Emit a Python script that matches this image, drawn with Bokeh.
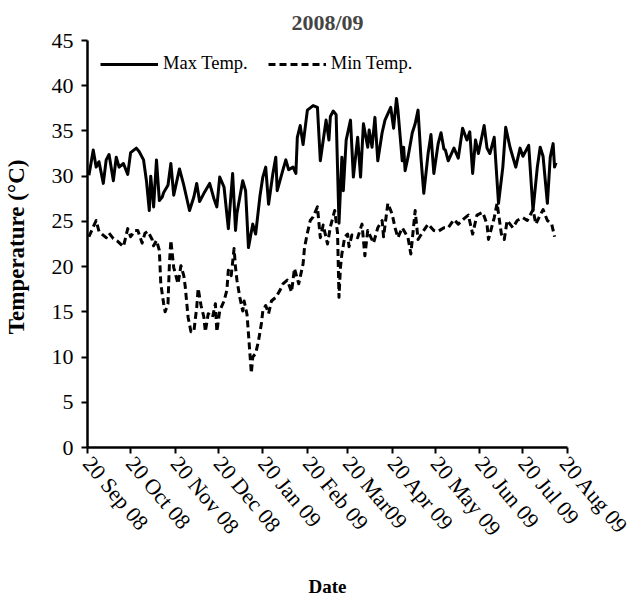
import math
import pandas as pd
from bokeh.plotting import figure
from bokeh.models import Range1d, FixedTicker, ColumnDataSource
from bokeh.embed import file_html
from bokeh.resources import INLINE

# Daily air temperature, 2008/09 season (day 0 = 20 Sep 2008)
season_start = "2008-09-20"

max_day = [1, 4, 6, 8, 11, 13, 15, 18, 20, 22, 25, 28, 30, 34, 36, 39, 41, 43, 44, 46,
           48, 50, 52, 53, 56, 58, 60, 64, 67, 71, 74, 76, 78, 81, 85, 88, 90, 92, 95, 98,
           101, 103, 104, 108, 110, 112, 115, 117, 120, 122, 124, 126, 129, 131, 132, 136, 138, 140, 143, 145,
           146, 148, 150, 153, 157, 160, 162, 166, 168, 169, 171, 173, 175, 177, 178, 180, 183, 185, 188, 190,
           192, 195, 196, 198, 200, 202, 205, 207, 211, 213, 215, 216, 219, 220, 221, 223, 226, 228, 230, 232,
           234, 237, 239, 241, 244, 246, 248, 249, 251, 255, 258, 261, 264, 266, 268, 270, 272, 276, 278, 280,
           283, 286, 289, 291, 294, 298, 301, 303, 307, 310, 313, 315, 317, 320, 322, 324, 325, 326]
max_temp = [30.1, 32.9, 31.0, 31.6, 29.2, 31.8, 32.4, 29.5, 32.1, 31.0, 31.4, 30.2, 32.6, 33.1, 32.7, 31.8, 29.5, 26.2, 30.0, 26.6,
            31.8, 27.3, 27.7, 28.2, 29.0, 31.4, 27.9, 30.8, 29.0, 26.2, 27.7, 29.2, 27.2, 28.1, 29.2, 27.5, 26.6, 29.9, 28.8, 24.2,
            30.3, 24.0, 25.9, 29.5, 28.4, 22.1, 24.7, 23.6, 27.8, 29.9, 31.0, 26.9, 30.3, 32.1, 28.4, 30.7, 31.8, 30.7, 31.0, 30.3,
            34.3, 35.6, 33.5, 37.3, 37.8, 37.6, 31.7, 36.2, 34.0, 36.6, 37.2, 36.8, 24.8, 32.1, 28.4, 34.0, 36.2, 29.9, 34.3, 29.9,
            35.8, 33.2, 35.1, 33.2, 36.5, 31.7, 34.8, 36.2, 37.6, 35.3, 38.6, 37.3, 31.7, 33.2, 30.6, 32.1, 34.8, 35.8, 37.3, 32.1,
            28.1, 32.5, 34.6, 30.3, 33.6, 34.8, 33.0, 32.9, 31.7, 33.1, 32.0, 35.3, 34.0, 34.9, 30.3, 34.0, 32.5, 35.6, 33.1, 32.5,
            34.3, 27.0, 31.0, 35.4, 33.2, 31.0, 33.1, 32.2, 33.4, 26.2, 31.0, 33.2, 32.2, 27.0, 32.1, 33.6, 31.0, 31.5]

min_day = [1, 6, 8, 10, 13, 15, 18, 21, 25, 28, 30, 33, 35, 38, 40, 42, 45, 46, 48, 50,
           51, 53, 54, 56, 57, 58, 60, 63, 65, 67, 68, 70, 72, 74, 76, 77, 79, 81, 82, 84,
           87, 89, 90, 92, 95, 97, 98, 100, 102, 103, 104, 106, 108, 109, 111, 112, 113, 114, 115, 117,
           119, 121, 122, 124, 126, 128, 131, 134, 136, 139, 142, 144, 147, 150, 151, 153, 155, 157, 160, 162,
           164, 167, 169, 172, 174, 175, 176, 177, 179, 181, 182, 184, 188, 191, 193, 195, 199, 202, 205, 206,
           209, 212, 214, 216, 219, 223, 225, 228, 230, 234, 237, 241, 244, 248, 251, 255, 258, 262, 265, 268,
           271, 275, 278, 279, 283, 285, 288, 290, 292, 296, 299, 303, 306, 310, 312, 315, 317, 320, 323, 325]
min_temp = [23.3, 25.1, 23.9, 23.6, 23.2, 23.7, 23.1, 22.8, 22.2, 24.2, 23.3, 24.0, 24.0, 22.6, 23.7, 23.9, 23.0, 22.3, 22.9, 21.8,
            18.1, 15.9, 15.0, 15.9, 20.3, 22.9, 19.9, 18.1, 20.1, 19.0, 17.8, 14.4, 12.8, 12.8, 15.5, 17.6, 15.7, 14.4, 12.8, 14.8,
            14.4, 15.9, 12.8, 15.1, 16.2, 17.4, 19.6, 19.0, 22.0, 19.9, 18.5, 16.6, 15.1, 16.2, 14.7, 12.6, 10.4, 8.2, 10.0, 10.4,
            11.8, 13.7, 15.1, 15.7, 14.8, 16.2, 16.6, 17.4, 18.1, 18.5, 17.2, 19.8, 18.1, 20.3, 22.1, 23.7, 25.1, 25.5, 26.6, 23.2,
            24.6, 22.5, 24.4, 26.2, 23.7, 16.6, 19.9, 21.4, 23.3, 23.6, 22.2, 23.5, 23.2, 24.7, 21.2, 24.0, 22.6, 24.3, 25.1, 23.3,
            27.0, 25.8, 24.3, 23.2, 24.3, 23.2, 21.4, 26.2, 23.0, 24.0, 24.7, 24.0, 23.9, 24.3, 24.3, 25.2, 24.7, 25.3, 25.7, 23.6,
            25.7, 26.0, 24.7, 23.0, 25.4, 27.0, 23.6, 23.0, 25.1, 24.3, 25.1, 25.4, 25.1, 26.3, 24.7, 25.7, 26.3, 25.1, 24.7, 23.3]

tick_dates = ["2008-09-20", "2008-10-20", "2008-11-20", "2008-12-20", "2009-01-20", "2009-02-20",
              "2009-03-20", "2009-04-20", "2009-05-20", "2009-06-20", "2009-07-20", "2009-08-20"]
tick_labels = ["20 Sep 08", "20 Oct 08", "20 Nov 08", "20 Dec 08", "20 Jan 09", "20 Feb 09",
               "20 Mar09", "20 Apr 09", "20 May 09", "20 Jun 09", "20 Jul 09", "20 Aug 09"]
y_ticks = [0, 5, 10, 15, 20, 25, 30, 35, 40, 45]

FONT = "Liberation Serif"


def to_ms(d):
    return pd.Timestamp(d).value / 1e6


start = pd.Timestamp(season_start)
max_src = ColumnDataSource(dict(date=(start + pd.to_timedelta(max_day, unit="D")).values, temp=max_temp))
min_src = ColumnDataSource(dict(date=(start + pd.to_timedelta(min_day, unit="D")).values, temp=min_temp))

p = figure(width=633, height=599, x_axis_type="datetime",
           output_backend="svg", toolbar_location=None,
           x_range=Range1d(to_ms(tick_dates[0]), to_ms(tick_dates[-1])),
           y_range=Range1d(0, 45),
           min_border_left=87, min_border_right=66, min_border_top=40, min_border_bottom=152)

p.line("date", "temp", source=max_src, line_color="black", line_width=3,
       line_join="round", legend_label="Max Temp.")
p.line("date", "temp", source=min_src, line_color="black", line_width=3,
       line_dash="7 4", line_join="round", legend_label="Min Temp.")

# title
p.title.text = "2008/09"
p.title.align = "center"
p.title.text_font = FONT
p.title.text_font_style = "bold"
p.title.text_font_size = "22px"
p.title.standoff = 12

p.xgrid.visible = False
p.ygrid.visible = False
p.outline_line_color = None
p.background_fill_color = "white"
p.border_fill_color = "white"

for ax in (p.xaxis[0], p.yaxis[0]):
    ax.axis_line_width = 2.5
    ax.axis_line_color = "black"
    ax.major_tick_line_width = 2
    ax.major_tick_line_color = "black"
    ax.major_tick_out = 6
    ax.major_tick_in = 0
    ax.minor_tick_line_color = None
    ax.major_label_text_font = FONT
    ax.major_label_text_font_size = "22px"
    ax.major_label_text_color = "black"
    ax.axis_label_text_font = FONT
    ax.axis_label_text_font_style = "bold"
    ax.axis_label_text_color = "black"

xa = p.xaxis[0]
xa.ticker = FixedTicker(ticks=[to_ms(d) for d in tick_dates])
xa.major_label_overrides = {to_ms(d): lab for d, lab in zip(tick_dates, tick_labels)}
xa.major_label_orientation = -math.radians(50)
xa.major_label_standoff = 6
xa.axis_label = "Date"
xa.axis_label_text_font_size = "19px"
xa.axis_label_standoff = 24

ya = p.yaxis[0]
ya.ticker = FixedTicker(ticks=y_ticks)
ya.major_label_standoff = 8
ya.axis_label = "Temperature  (\u00b0C)"
ya.axis_label_text_font_size = "23px"
ya.axis_label_standoff = 20

lg = p.legend[0]
lg.location = "top_left"
lg.orientation = "horizontal"
lg.glyph_width = 58
lg.glyph_height = 20
lg.label_standoff = 5
lg.spacing = 20
lg.padding = 13
lg.margin = 0
lg.label_text_font = FONT
lg.label_text_font_size = "18.5px"
lg.label_text_color = "black"
lg.border_line_alpha = 0
lg.background_fill_alpha = 0

open("out.html", "w").write(file_html(p, INLINE))
